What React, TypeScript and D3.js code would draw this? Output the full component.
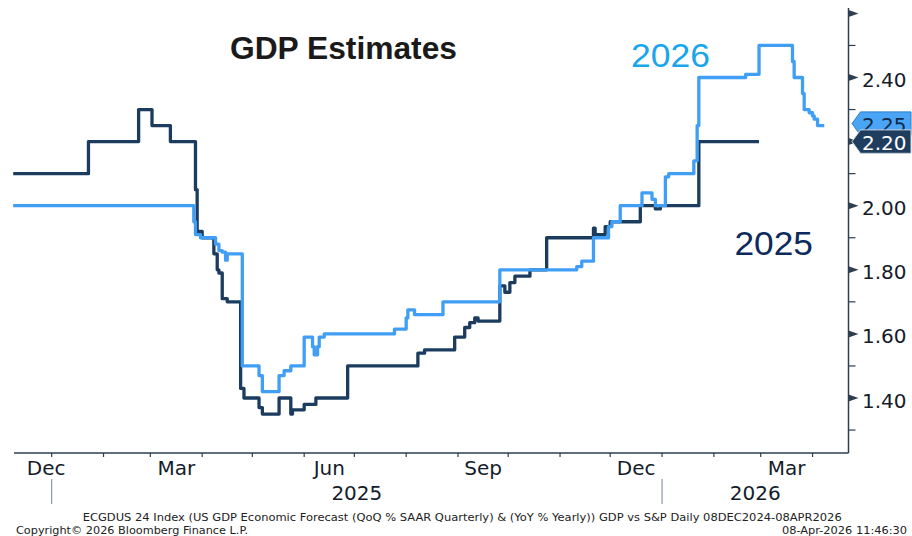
import React from "react";
import * as d3 from "d3";

// ---------- data ----------
const gdp2025: [string, number][] = [
  ["2024-12-09", 2.1], ["2025-01-23", 2.2], ["2025-02-22", 2.3], ["2025-03-02", 2.25],
  ["2025-03-13", 2.2], ["2025-03-28", 2.05], ["2025-03-29", 1.92], ["2025-04-01", 1.9],
  ["2025-04-08", 1.85], ["2025-04-10", 1.8], ["2025-04-11", 1.79], ["2025-04-13", 1.71],
  ["2025-04-16", 1.7], ["2025-04-24", 1.43], ["2025-04-26", 1.4], ["2025-05-05", 1.37],
  ["2025-05-07", 1.35], ["2025-05-17", 1.4], ["2025-05-24", 1.35], ["2025-05-25", 1.363],
  ["2025-06-01", 1.38], ["2025-06-08", 1.4], ["2025-06-27", 1.5], ["2025-08-08", 1.54],
  ["2025-08-12", 1.55], ["2025-08-30", 1.59], ["2025-09-05", 1.62], ["2025-09-08", 1.635],
  ["2025-09-11", 1.65], ["2025-09-13", 1.64], ["2025-09-26", 1.75], ["2025-09-29", 1.73],
  ["2025-10-02", 1.76], ["2025-10-05", 1.78], ["2025-10-14", 1.8], ["2025-10-24", 1.9],
  ["2025-11-21", 1.93], ["2025-11-22", 1.91], ["2025-11-28", 1.935], ["2025-12-01", 1.95],
  ["2025-12-19", 2.0], ["2025-12-28", 1.99], ["2025-12-31", 2.0], ["2026-01-23", 2.2],
  ["2026-02-28", 2.2],
];

const gdp2026: [string, number][] = [
  ["2024-12-09", 2.0], ["2025-03-27", 1.95], ["2025-03-28", 1.91], ["2025-03-31", 1.9],
  ["2025-04-09", 1.88], ["2025-04-11", 1.86], ["2025-04-13", 1.855], ["2025-04-15", 1.83],
  ["2025-04-16", 1.85], ["2025-04-25", 1.5], ["2025-05-05", 1.47], ["2025-05-07", 1.42],
  ["2025-05-17", 1.47], ["2025-05-20", 1.485], ["2025-05-24", 1.5], ["2025-06-01", 1.59],
  ["2025-06-06", 1.56], ["2025-06-07", 1.535], ["2025-06-09", 1.56], ["2025-06-10", 1.59],
  ["2025-06-13", 1.6], ["2025-07-25", 1.615], ["2025-08-01", 1.65], ["2025-08-02", 1.675],
  ["2025-08-06", 1.66], ["2025-08-23", 1.7], ["2025-09-26", 1.8], ["2025-11-11", 1.81],
  ["2025-11-14", 1.827], ["2025-11-21", 1.9], ["2025-11-30", 1.935], ["2025-12-02", 1.95],
  ["2025-12-07", 2.0], ["2025-12-20", 2.04], ["2025-12-26", 2.02], ["2025-12-28", 2.0],
  ["2026-01-03", 2.09], ["2026-01-05", 2.1], ["2026-01-20", 2.14], ["2026-01-22", 2.25],
  ["2026-01-23", 2.4], ["2026-02-20", 2.41], ["2026-02-28", 2.5], ["2026-03-20", 2.45],
  ["2026-03-21", 2.4], ["2026-03-26", 2.35], ["2026-03-27", 2.3], ["2026-03-30", 2.29],
  ["2026-04-01", 2.28], ["2026-04-02", 2.27], ["2026-04-04", 2.25], ["2026-04-08", 2.25],
];

const yMajorTicks = [1.4, 1.6, 1.8, 2.0, 2.2, 2.4, 2.6];
const yMajorLabels = ["1.40", "1.60", "1.80", "2.00", "2.20", "2.40", ""];
const yMinorTicks = [1.3, 1.5, 1.7, 1.9, 2.1, 2.3, 2.5];

const monthLabelDates = ["2024-12-01", "2025-03-01", "2025-06-01", "2025-09-01", "2025-12-01", "2026-03-01"];
const monthLabels = ["Dec", "Mar", "Jun", "Sep", "Dec", "Mar"];
const yearStarts = ["2025-01-01", "2026-01-01"];
const yearLabels = ["2025", "2026"];

const lastValues = [
  { label: "2.25", value: 2.25, fill: "#4aa5f6", stroke: "#2f7cc4", text: "#10284a", shift: -2 },
  { label: "2.20", value: 2.2, fill: "#1f3e5f", stroke: "#c9d3dc", text: "#ffffff", shift: 0 },
];

// ---------- layout ----------
const W = 912;
const H = 536;
const parse = d3.timeParse("%Y-%m-%d")!;
const domainStart = new Date(2024, 11, 9);
const domainEnd = new Date(2026, 3, 22, 12);
const X0 = 13.2;
const X1 = 848.5;
const AXIS_Y = 453;
const TOP_Y = 8;

const x = d3.scaleTime().domain([domainStart, domainEnd]).range([X0, X1]);
const y = d3.scaleLinear().domain([1.4, 2.6]).range([398, 13.4]);

const COL_2026 = "#409ff5";
const COL_2025 = "#1b3c5f";
const AXIS_COL = "#2d3e50";
const TXT = "#141c2a";
const AXIS_FONT = "'DejaVu Sans', Verdana, sans-serif";
const SANS = "'Liberation Sans', Arial, sans-serif";

const line = d3
  .line<[string, number]>()
  .x((d) => x(parse(d[0])!))
  .y((d) => y(d[1]))
  .curve(d3.curveStepAfter);

export default function App() {
  const monthTicks = d3.timeMonth.range(d3.timeMonth.ceil(domainStart), domainEnd);

  const monthLabelPos = monthLabelDates.map((s, i) => {
    const ms = parse(s)!;
    const me = d3.timeMonth.offset(ms, 1);
    const a = x(ms < domainStart ? domainStart : ms);
    const b = x(me > domainEnd ? domainEnd : me);
    const mid = (a + b) / 2;
    return { label: monthLabels[i], cx: Math.max(mid, X0 + 33) };
  });

  const yearPos = yearStarts.map((s, i) => {
    const ys = parse(s)!;
    const ye = d3.timeYear.offset(ys, 1);
    const a = x(ys);
    const b = x(ye > domainEnd ? domainEnd : ye);
    return { label: yearLabels[i], sep: a, cx: (a + b) / 2 };
  });

  return (
    <svg
      width={W}
      height={H}
      viewBox={`0 0 ${W} ${H}`}
      style={{ position: "absolute", left: 0, top: 0, background: "#ffffff" }}
    >
      <rect x={0} y={0} width={W} height={H} fill="#ffffff" />

      {/* title */}
      <text x={230} y={58.5} fontFamily={SANS} fontWeight="bold" fontSize={30.5} fill="#1a1a1a" textLength={227} lengthAdjust="spacingAndGlyphs">
        GDP Estimates
      </text>

      {/* series */}
      <path d={line(gdp2025) ?? ""} fill="none" stroke={COL_2025} strokeWidth={3.3} strokeLinejoin="round" />
      <path d={line(gdp2026) ?? ""} fill="none" stroke={COL_2026} strokeWidth={3.3} strokeLinejoin="round" />

      {/* series labels */}
      <text x={631} y={66.5} fontFamily={SANS} fontSize={33.5} fill="#1aa6ea" textLength={79} lengthAdjust="spacingAndGlyphs">
        2026
      </text>
      <text x={734.5} y={255} fontFamily={SANS} fontSize={33.5} fill="#0d2a5c" textLength={78.5} lengthAdjust="spacingAndGlyphs">
        2025
      </text>

      {/* bottom axis */}
      <line x1={14} x2={X1} y1={AXIS_Y} y2={AXIS_Y} stroke={AXIS_COL} strokeWidth={1.5} />
      {monthTicks.map((d, i) => (
        <line key={i} x1={x(d)} x2={x(d)} y1={AXIS_Y} y2={AXIS_Y + 4} stroke={AXIS_COL} strokeWidth={1.2} />
      ))}
      {monthLabelPos.map((m, i) => (
        <text key={i} x={m.cx} y={474.5} textAnchor="middle" fontFamily={AXIS_FONT} fontSize={20} fill={TXT}>
          {m.label}
        </text>
      ))}
      {yearPos.map((p, i) => (
        <g key={i}>
          <line x1={p.sep} x2={p.sep} y1={479} y2={504} stroke="#8d9aa8" strokeWidth={1.2} />
          <text x={p.cx} y={500} textAnchor="middle" fontFamily={AXIS_FONT} fontSize={20} fill={TXT}>
            {p.label}
          </text>
        </g>
      ))}

      {/* right axis */}
      <line x1={X1} x2={X1} y1={TOP_Y} y2={AXIS_Y} stroke={AXIS_COL} strokeWidth={1.5} />
      {yMinorTicks.map((v, i) => (
        <line key={i} x1={X1} x2={X1 + 7} y1={y(v)} y2={y(v)} stroke={AXIS_COL} strokeWidth={1.2} />
      ))}
      {yMajorTicks.map((v, i) => (
        <g key={i}>
          <path
            d={`M${X1},${y(v) - 3.5} L${X1 + 10},${y(v)} L${X1},${y(v) + 3.5} Z`}
            fill={AXIS_COL}
          />
          <text x={862} y={y(v) + 9.5} fontFamily={AXIS_FONT} fontSize={20} fill={TXT}>
            {yMajorLabels[i]}
          </text>
        </g>
      ))}

      {/* last-value tags */}
      {lastValues.map((t, i) => {
        const cy = y(t.value) + t.shift;
        const h = 11.7;
        return (
          <g key={i}>
            <path
              d={`M${X1 + 3.5},${cy} L${X1 + 12},${cy - h} L${W - 1},${cy - h} L${W - 1},${cy + h} L${X1 + 12},${cy + h} Z`}
              fill={t.fill}
              stroke={t.stroke}
              strokeWidth={1}
            />
            <text x={862} y={cy + 8.3} fontFamily={AXIS_FONT} fontSize={20} fill={t.text}>
              {t.label}
            </text>
          </g>
        );
      })}

      {/* footer */}
      <text
        x={82.7}
        y={520.5}
        fontFamily={AXIS_FONT}
        fontSize={11}
        fill="#222"
        textLength={759}
        lengthAdjust="spacingAndGlyphs"
      >
        ECGDUS 24 Index (US GDP Economic Forecast (QoQ % SAAR Quarterly) &amp; (YoY % Yearly)) GDP vs S&amp;P Daily 08DEC2024-08APR2026
      </text>
      <text x={16} y={534} fontFamily={AXIS_FONT} fontSize={11} fill="#222" textLength={232} lengthAdjust="spacingAndGlyphs">
        Copyright© 2026 Bloomberg Finance L.P.
      </text>
      <text x={782} y={534} fontFamily={AXIS_FONT} fontSize={11} fill="#222" textLength={125} lengthAdjust="spacingAndGlyphs">
        08-Apr-2026 11:46:30
      </text>
    </svg>
  );
}
